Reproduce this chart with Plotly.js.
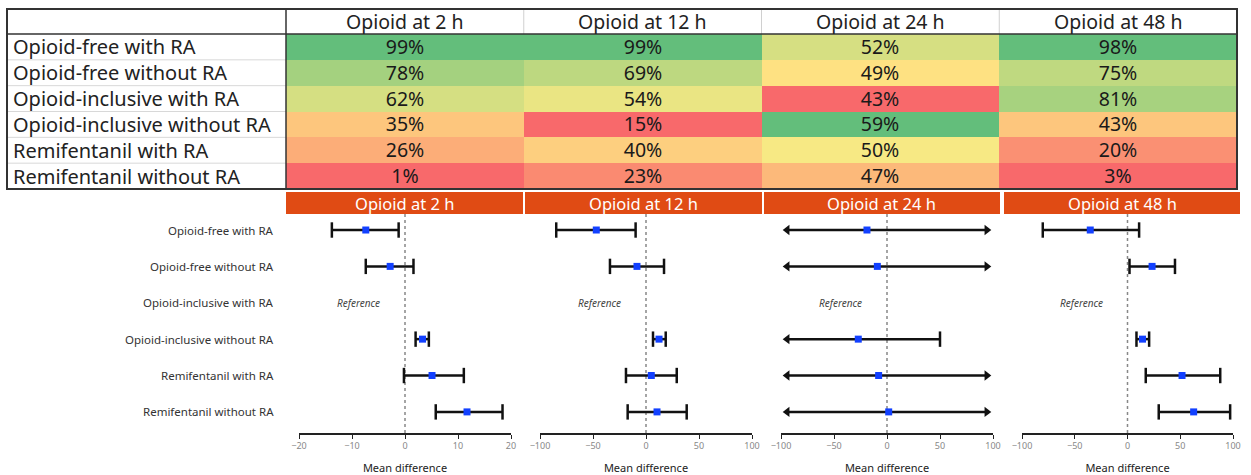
<!DOCTYPE html>
<html>
<head>
<meta charset="utf-8">
<script src="https://cdn.plot.ly/plotly-3.0.1.min.js"></script>
<style>html,body{margin:0;padding:0;background:#fff;}#chart{width:1251px;height:475px;}</style>
</head>
<body>
<div id="chart"></div>
<script>
// ---------- DATA ----------
const timepoints = ['Opioid at 2 h', 'Opioid at 12 h', 'Opioid at 24 h', 'Opioid at 48 h'];
const groups = ['Opioid-free with RA', 'Opioid-free without RA', 'Opioid-inclusive with RA',
                'Opioid-inclusive without RA', 'Remifentanil with RA', 'Remifentanil without RA'];

// probability (%) table, one array per time point (order = groups)
const pct2h  = [99, 78, 62, 35, 26, 1];
const pct12h = [99, 69, 54, 15, 40, 23];
const pct24h = [52, 49, 43, 59, 50, 47];
const pct48h = [98, 75, 81, 43, 20, 3];

// forest plot: mean difference and 95% CI vs reference (null = reference group,
// +/-Infinity = CI runs beyond the axis, drawn as an arrow)
const md2h  = [-7.4, -2.8, null, 3.3, 5.1, 11.7];
const lo2h  = [-13.8, -7.4, null, 2.0, -0.2, 5.8];
const hi2h  = [-1.2, 1.6, null, 4.5, 11.1, 18.4];

const md12h = [-46.9, -8.5, null, 12.3, 5.0, 10.4];
const lo12h = [-84.7, -34, null, 6.6, -18.9, -17.3];
const hi12h = [-9.8, 17, null, 18.6, 29, 38.4];

const md24h = [-18.9, -9.1, null, -27.1, -7.9, 1.6];
const lo24h = [-Infinity, -Infinity, null, -Infinity, -Infinity, -Infinity];
const hi24h = [Infinity, Infinity, null, 50, Infinity, Infinity];

const md48h = [-35.3, 23.3, null, 14.2, 51.7, 62.7];
const lo48h = [-80.3, 1.9, null, 8.5, 17.3, 29.6];
const hi48h = [11, 45, null, 20.5, 87.9, 97.3];

const axisRanges = [[-20, 20], [-100, 100], [-100, 100], [-100, 100]];
const axisDtick = [10, 50, 50, 50];
const referenceLabel = 'Reference';
const axisTitle = 'Mean difference';

// ---------- LAYOUT HELPERS ----------
const W = 1251, H = 475;
const nx = p => p / W;
const ny = p => 1 - p / H;
const FONT = '"Noto Sans", Lato, sans-serif';
const ORANGE = '#E04B14';
const BLUE = '#1240FF';

const pctCols = [pct2h, pct12h, pct24h, pct48h];
const mdCols = [md2h, md12h, md24h, md48h];
const loCols = [lo2h, lo12h, lo24h, lo48h];
const hiCols = [hi2h, hi12h, hi24h, hi48h];

// Excel-like 3 colour scale per column: min -> 0, median -> 0.5, max -> 1
function scalePos(vals) {
  const s = [...vals].sort((a, b) => a - b);
  const n = s.length, min = s[0], max = s[n - 1];
  const k = (n - 1) * 0.5, f = Math.floor(k);
  const med = s[f] + (k - f) * (s[Math.min(f + 1, n - 1)] - s[f]);
  return vals.map(v => v <= med ? 0.5 * (v - min) / (med - min) : 0.5 + 0.5 * (v - med) / (max - med));
}
const normCols = pctCols.map(scalePos);
const z = groups.map((g, i) => timepoints.map((t, j) => normCols[j][i]));
const txt = groups.map((g, i) => timepoints.map((t, j) => pctCols[j][i] + '%'));

// table geometry (pixels)
const tL = 7, tR = 1237, tT = 9, tHead = 34, tB = 189, tLab = 286;

const traces = [];
traces.push({
  type: 'heatmap', x: timepoints, y: groups, z: z, text: txt,
  texttemplate: '%{text}', textfont: {family: FONT, size: 19.5, color: '#1a1a1a'},
  colorscale: [[0, '#F8696B'], [0.5, '#FFEB84'], [1, '#63BE7B']],
  zmin: 0, zmax: 1, showscale: false, hoverinfo: 'skip', xgap: 0, ygap: 0,
  xaxis: 'x5', yaxis: 'y5'
});

const layout = {
  width: W, height: H, margin: {l: 0, r: 0, t: 0, b: 0},
  paper_bgcolor: '#fff', plot_bgcolor: 'rgba(0,0,0,0)', showlegend: false,
  font: {family: FONT},
  xaxis5: {domain: [nx(tLab), nx(tR)], anchor: 'y5', visible: false, fixedrange: true},
  yaxis5: {domain: [ny(tB), ny(tHead)], anchor: 'x5', visible: false, autorange: 'reversed', fixedrange: true},
  shapes: [], annotations: []
};

// table header & labels
const colW = (tR - tLab) / timepoints.length;
const rowH = (tB - tHead) / groups.length;
timepoints.forEach((t, j) => {
  layout.annotations.push({xref: 'paper', yref: 'paper', x: nx(tLab + colW * (j + 0.5)), y: ny(21),
    text: t, showarrow: false, xanchor: 'center', yanchor: 'middle', font: {family: FONT, size: 19.5, color: '#222'}});
  if (j > 0) layout.shapes.push({type: 'line', xref: 'paper', yref: 'paper', x0: nx(tLab + colW * j), x1: nx(tLab + colW * j),
    y0: ny(tT), y1: ny(tHead), line: {color: '#d0d0d0', width: 1}});
});
groups.forEach((g, i) => {
  layout.annotations.push({xref: 'paper', yref: 'paper', x: nx(tL + 4), y: ny(tHead + rowH * (i + 0.5)),
    text: g, showarrow: false, xanchor: 'left', yanchor: 'middle', font: {family: FONT, size: 20, color: '#222'}});
  if (i > 0) layout.shapes.push({type: 'line', xref: 'paper', yref: 'paper', x0: nx(tL), x1: nx(tLab),
    y0: ny(tHead + rowH * i), y1: ny(tHead + rowH * i), line: {color: '#d8d8d8', width: 1}});
});
layout.shapes.push({type: 'line', xref: 'paper', yref: 'paper', x0: nx(tL), x1: nx(tR), y0: ny(tHead), y1: ny(tHead), line: {color: '#333', width: 1.5}});
layout.shapes.push({type: 'line', xref: 'paper', yref: 'paper', x0: nx(tLab), x1: nx(tLab), y0: ny(tT), y1: ny(tB), line: {color: '#333', width: 1.5}});
layout.shapes.push({type: 'rect', xref: 'paper', yref: 'paper', x0: nx(tL), x1: nx(tR), y0: ny(tB), y1: ny(tT), line: {color: '#333', width: 2}});

// forest plots
const bars = [[286, 523], [525, 762], [764, 1000], [1004, 1240]];
const axesPx = [[299, 511], [540, 752], [781, 993], [1022, 1233]];
const fTop = 214, fBot = 433;
const yRange = [0.42, 6.44];

groups.forEach((g, i) => {
  layout.annotations.push({xref: 'paper', yref: 'y', x: nx(276), y: groups.length - i, text: g, showarrow: false,
    xanchor: 'right', yanchor: 'middle', font: {family: FONT, size: 11.5, color: '#333'}});
});

timepoints.forEach((t, k) => {
  const xa = k === 0 ? 'x' : 'x' + (k + 1);
  const ya = k === 0 ? 'y' : 'y' + (k + 1);
  const xName = k === 0 ? 'xaxis' : 'xaxis' + (k + 1);
  const yName = k === 0 ? 'yaxis' : 'yaxis' + (k + 1);
  const [r0, r1] = axisRanges[k];
  const unitsPerPx = (r1 - r0) / (axesPx[k][1] - axesPx[k][0]);
  layout[xName] = {domain: [nx(axesPx[k][0]), nx(axesPx[k][1])], anchor: ya, range: axisRanges[k],
    dtick: axisDtick[k], tick0: 0, showgrid: false, zeroline: false, showline: true, linecolor: '#222', linewidth: 1.5,
    ticks: 'outside', ticklen: 4, tickwidth: 1, tickcolor: '#222', tickfont: {family: FONT, size: 9, color: '#888'},
    title: {text: axisTitle, font: {family: FONT, size: 11, color: '#222'}, standoff: 17}, fixedrange: true};
  layout[yName] = {domain: [ny(fBot), ny(fTop)], anchor: xa, range: yRange, visible: false, fixedrange: true};

  // orange header bar
  layout.shapes.push({type: 'rect', xref: 'paper', yref: 'paper', x0: nx(bars[k][0]), x1: nx(bars[k][1]),
    y0: ny(214), y1: ny(192), fillcolor: ORANGE, line: {width: 0}, layer: 'below'});
  layout.annotations.push({xref: 'paper', yref: 'paper', x: nx((bars[k][0] + bars[k][1]) / 2), y: ny(203),
    text: t, showarrow: false, xanchor: 'center', yanchor: 'middle', font: {family: FONT, size: 16.5, color: '#fff'}});
  // zero line
  layout.shapes.push({type: 'line', xref: xa, yref: ya + ' domain', x0: 0, x1: 0, y0: 0, y1: 1,
    line: {color: '#888', width: 1.5, dash: 'dot'}, layer: 'below'});

  const lx = [], ly = [], cx = [], cy = [], alx = [], aly = [], arx = [], ary = [], px = [], py = [];
  const tipL = r0 + 1.6 * (r1 - r0) / 200, tipR = r1 - 1.6 * (r1 - r0) / 200;
  const half = 4.5 * unitsPerPx;
  mdCols[k].forEach((m, i) => {
    const yv = groups.length - i;
    if (m === null) {
      layout.annotations.push({xref: xa + ' domain', yref: ya, x: 0.283, y: yv, text: '<i>' + referenceLabel + '</i>',
        showarrow: false, xanchor: 'center', yanchor: 'middle', font: {family: FONT, size: 10, color: '#444'}});
      return;
    }
    const lo = loCols[k][i], hi = hiCols[k][i];
    let a, b;
    if (isFinite(lo)) { a = lo; cx.push(lo); cy.push(yv); } else { a = tipL + half; alx.push(tipL + half); aly.push(yv); }
    if (isFinite(hi)) { b = hi; cx.push(hi); cy.push(yv); } else { b = tipR - half; arx.push(tipR - half); ary.push(yv); }
    lx.push(a, b, null); ly.push(yv, yv, null);
    px.push(m); py.push(yv);
  });
  traces.push({type: 'scatter', mode: 'lines', x: lx, y: ly, xaxis: xa, yaxis: ya, line: {color: '#111', width: 2.5}, hoverinfo: 'skip'});
  traces.push({type: 'scatter', mode: 'markers', x: cx, y: cy, xaxis: xa, yaxis: ya, hoverinfo: 'skip',
    marker: {symbol: 'line-ns', size: 11, line: {color: '#111', width: 2.5}}});
  if (alx.length) traces.push({type: 'scatter', mode: 'markers', x: alx, y: aly, xaxis: xa, yaxis: ya, hoverinfo: 'skip',
    marker: {symbol: 'triangle-left', size: 9, color: '#111'}});
  if (arx.length) traces.push({type: 'scatter', mode: 'markers', x: arx, y: ary, xaxis: xa, yaxis: ya, hoverinfo: 'skip',
    marker: {symbol: 'triangle-right', size: 9, color: '#111'}});
  traces.push({type: 'scatter', mode: 'markers', x: px, y: py, xaxis: xa, yaxis: ya, hoverinfo: 'skip',
    marker: {symbol: 'square', size: 7, color: BLUE}});
});

Plotly.newPlot('chart', traces, layout, {staticPlot: true, displayModeBar: false});
</script>
</body>
</html>
